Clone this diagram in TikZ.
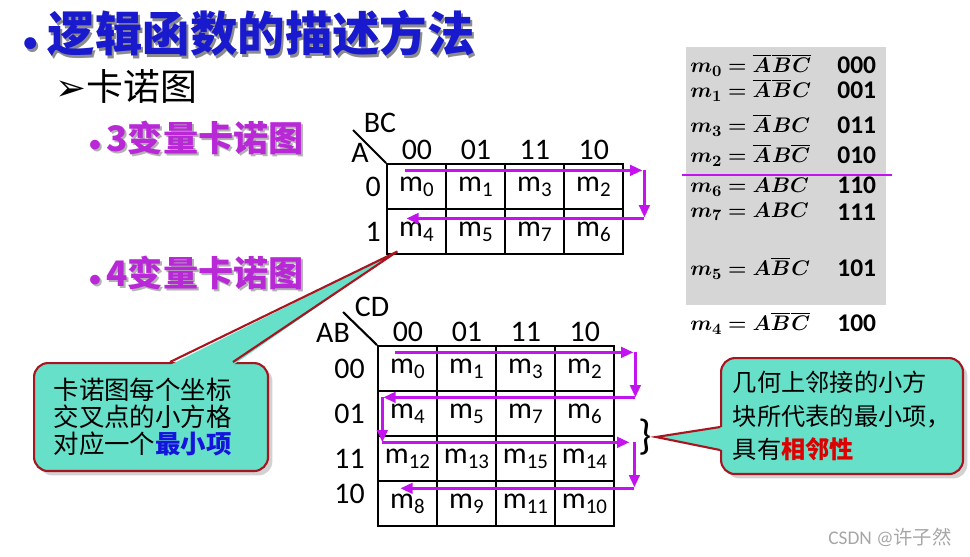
\documentclass[tikz,border=0pt]{standalone}
\usepackage{fontspec}
\setmainfont{Carlito}
\newfontfamily\cjk{Noto Sans CJK SC}
\newfontfamily\dejavu{DejaVu Sans}
\usepackage{amsmath,amssymb,bm}
\usepackage{xcolor}
\definecolor{titleblue}{RGB}{25,25,205}
\definecolor{headpurple}{RGB}{185,40,215}
\definecolor{flowpurple}{RGB}{195,20,240}
\definecolor{callfill}{RGB}{102,224,200}
\definecolor{callred}{RGB}{170,20,30}
\definecolor{marblegray}{RGB}{214,214,214}
\definecolor{keyred}{RGB}{220,0,0}
\definecolor{keyblue}{RGB}{20,20,220}
\usetikzlibrary{matrix}
\usetikzlibrary{positioning}
\usetikzlibrary{arrows.meta}
\usetikzlibrary{shadows}
\newcommand{\mterm}[1]{m\textsubscript{#1}}
\newcommand{\nb}[1]{\overline{#1}\mkern1mu}

\tikzset{
  titletext/.style={anchor=west,inner sep=0pt,text=titleblue,font=\fontsize{27}{30}\selectfont\bfseries},
  headtext/.style={anchor=west,inner sep=0pt,text=headpurple,font=\fontsize{20}{22}\selectfont\bfseries},
  kmap/.style={matrix of nodes,inner sep=0pt,column sep=-1.2pt,row sep=-1.2pt,
    nodes={draw,line width=1.2pt,minimum width=1.18cm,minimum height=0.9cm,anchor=center,
      inner sep=0pt,font=\fontsize{17}{17}\selectfont}},
  hdr/.style={inner sep=2pt,font=\fontsize{17}{17}\selectfont},
  flow/.style={draw=flowpurple,line width=1.6pt,-{Triangle[length=7pt,width=6pt]}},
  callbox/.style={draw=callred,line width=1.2pt,fill=callfill,rounded corners=8pt,
    anchor=north west,align=left,drop shadow={shadow xshift=2.5pt,shadow yshift=-2.5pt,fill=black!35}},
  minterm/.style={anchor=west,inner sep=0pt,font=\fontsize{12.5}{13}\selectfont},
  mcode/.style={anchor=west,inner sep=0pt,font=\fontsize{14.5}{14.5}\selectfont\bfseries}
}

\begin{document}
\begin{tikzpicture}[x=0.02cm,y=-0.02cm]
\useasboundingbox (0,0) rectangle (970,556);

% headings
\node[titletext,text=black!45] (title-sh) at (25,36) {{\fontsize{16}{16}\selectfont\textbullet}\hspace{6pt}{\cjk 逻辑函数的描述方法}};
\node[titletext] (title) at (23,33) {{\fontsize{16}{16}\selectfont\textbullet}\hspace{6pt}{\cjk 逻辑函数的描述方法}};
\node[anchor=west,inner sep=0pt,font=\fontsize{21}{24}\selectfont] (sub) at (55,86) {{\dejavu ➢}{\cjk 卡诺图}};
\node[headtext,text=black!30] (head3-sh) at (91,140) {{\fontsize{13}{13}\selectfont\textbullet}\,{\cjk 3变量卡诺图}};
\node[headtext] (head3) at (89,138) {{\fontsize{13}{13}\selectfont\textbullet}\,{\cjk 3变量卡诺图}};
\node[headtext,text=black!30] (head4-sh) at (91,275) {{\fontsize{13}{13}\selectfont\textbullet}\,{\cjk 4变量卡诺图}};
\node[headtext] (head4) at (89,273) {{\fontsize{13}{13}\selectfont\textbullet}\,{\cjk 4变量卡诺图}};

% 3 variable map
\matrix (kmap3) [kmap,anchor=north west] at (386,163)
{
\mterm{0} & \mterm{1} & \mterm{3} & \mterm{2} \\
\mterm{4} & \mterm{5} & \mterm{7} & \mterm{6} \\
};
\foreach \c/\t in {1/00,2/01,3/11,4/10}
  \node[hdr,above=0pt of kmap3-1-\c] (h3-\c) {\t};
\node[hdr,left=1pt of kmap3-1-1] (r3-1) {0};
\node[hdr,left=1pt of kmap3-2-1] (r3-2) {1};
\draw[line width=1.2pt] (kmap3.north west) -- ++(-33,-33);
\node[hdr] (bc) at ([shift={(-6,-40)}]kmap3.north west) {BC};
\node[hdr] (a) at ([shift={(-26,-10)}]kmap3.north west) {A};

\draw[flow] ([shift={(19,7)}]kmap3-1-1.north west) -- ([shift={(18,7)}]kmap3-1-4.north east);
\draw[flow] ([shift={(20,7)}]kmap3-1-4.north east) -- ([shift={(20,7)}]kmap3-1-4.south east);
\draw[flow] ([shift={(20,8)}]kmap3-1-4.south east) -- ([shift={(20,8)}]kmap3-1-1.south west);

% 4 variable map
\matrix (kmap4) [kmap,anchor=north west] at (377,345)
{
\mterm{0} & \mterm{1} & \mterm{3} & \mterm{2} \\
\mterm{4} & \mterm{5} & \mterm{7} & \mterm{6} \\
\mterm{12} & \mterm{13} & \mterm{15} & \mterm{14} \\
\mterm{8} & \mterm{9} & \mterm{11} & \mterm{10} \\
};
\foreach \c/\t in {1/00,2/01,3/11,4/10}
  \node[hdr,above=0pt of kmap4-1-\c] (h4-\c) {\t};
\node[hdr,left=5pt of kmap4-1-1] (r4-1) {00};
\node[hdr,left=5pt of kmap4-2-1] (r4-2) {01};
\node[hdr,left=5pt of kmap4-3-1] (r4-3) {11};
\node[hdr,left=5pt of kmap4-4-1,yshift=5.5pt] (r4-4) {10};
\draw[line width=1.2pt] (kmap4.north west) -- ++(-34,-33);
\node[hdr] (cd) at ([shift={(-5,-38)}]kmap4.north west) {CD};
\node[hdr] (ab) at ([shift={(-44,-12)}]kmap4.north west) {AB};

\draw[flow] ([shift={(18,7)}]kmap4-1-1.north west) -- ([shift={(18,7)}]kmap4-1-4.north east);
\draw[flow] ([shift={(20,7)}]kmap4-1-4.north east) -- ([shift={(20,7)}]kmap4-2-4.north east);
\draw[flow] ([shift={(20,7)}]kmap4-2-4.north east) -- ([shift={(6,7)}]kmap4-2-1.north west);
\draw[flow] ([shift={(5,7)}]kmap4-2-1.north west) -- ([shift={(5,7)}]kmap4-3-1.north west);
\draw[flow] ([shift={(5,7)}]kmap4-3-1.north west) -- ([shift={(14,7)}]kmap4-3-4.north east);
\draw[flow] ([shift={(19,7)}]kmap4-3-4.north east) -- ([shift={(19,7)}]kmap4-4-4.north east);
\draw[flow] ([shift={(19,8)}]kmap4-4-4.north east) -- ([shift={(23,8)}]kmap4-4-1.north west);

\node[inner sep=0pt,font=\fontsize{24}{24}\selectfont] (brace) at (645,437) {\}};

% minterm list
\node[fill=marblegray,anchor=north west,minimum width=4cm,minimum height=5.16cm,inner sep=0pt] (marble) at (686,47) {};
\foreach \n/\y/\f/\b in {0/65/{\nb{A}\nb{B}\nb{C}}/000,
                          1/90/{\nb{A}\nb{B}C}/001,
                          3/125/{\nb{A}BC}/011,
                          2/155/{\nb{A}B\nb{C}}/010,
                          6/185/{AB\nb{C}}/110,
                          7/212/{ABC}/111,
                          5/268/{A\nb{B}C}/101,
                          4/323/{A\nb{B}\nb{C}}/100}
{
  \node[minterm] (mt\n) at (690,\y) {$\bm{m_{\n} = \f}$};
  \node[mcode] (code\n) at (837,\y) {\b};
}
\draw[draw=flowpurple,line width=1.4pt] ([shift={(-4,128)}]marble.north west) -- ([shift={(5,128)}]marble.north east);

% callouts
\node[callbox,minimum width=4.68cm,minimum height=2.16cm,text width=3.9cm,inner xsep=0.39cm,
  font=\cjk\fontsize{14.5}{15.5}\selectfont] (note) at (33,362)
  {卡诺图每个坐标\\交叉点的小方格\\对应一个\textcolor{keyblue}{\bfseries 最小项}};
\coordinate (tipA) at ([shift={(11,-4)}]kmap3-2-1.south west);
\fill[callfill] ([shift={(137,3)}]note.north west) -- (tipA) -- ([shift={(200,3)}]note.north west) -- cycle;
\draw[callred,line width=1.2pt] ([shift={(137,0)}]note.north west) -- (tipA) -- ([shift={(200,0)}]note.north west);

\node[callbox,minimum width=4.84cm,minimum height=2.32cm,font=\cjk\fontsize{13.8}{19}\selectfont] (adj) at (720,357)
  {几何上邻接的小方\\块所代表的最小项，\\具有\textcolor{keyred}{\bfseries 相邻性}};
\coordinate (tipB) at ([shift={(4,0)}]brace.east);
\fill[callfill] ([shift={(3,70)}]adj.north west) -- (tipB) -- ([shift={(3,93)}]adj.north west) -- cycle;
\draw[callred,line width=1.2pt] ([shift={(0,70)}]adj.north west) -- (tipB) -- ([shift={(0,93)}]adj.north west);

\node[text=black!35,font=\fontsize{11}{11}\selectfont] (wm) at (890,537) {CSDN @{\cjk 许子然}};
\end{tikzpicture}
\end{document}
